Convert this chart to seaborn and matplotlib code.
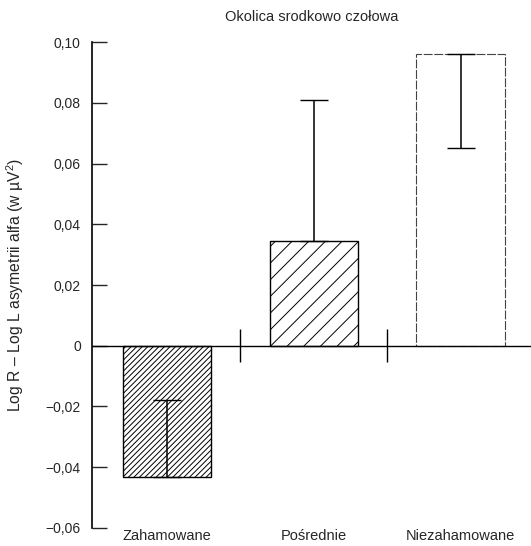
import numpy as np
import pandas as pd
import seaborn as sns
import matplotlib.pyplot as plt
from matplotlib.ticker import FuncFormatter

# values
groups = ['Zahamowane', 'Pośrednie', 'Niezahamowane']
means = [-0.0433, 0.0344, 0.0961]
err_end = [-0.0177, 0.0810, 0.0652]   # where the one-sided error bar stops
hatches = ['//////', '//', '']
title = 'Okolica srodkowo czołowa'
ylabel = 'Log R – Log L asymetrii alfa (w µV$^2$)'

sns.set_style('white')
plt.rcParams['font.family'] = ['Liberation Sans', 'DejaVu Sans']
plt.rcParams['hatch.linewidth'] = 0.7
plt.rcParams['mathtext.fontset'] = 'custom'
plt.rcParams['mathtext.rm'] = 'Liberation Sans'

df = pd.DataFrame({'grupa': groups, 'wartosc': means})

fig = plt.figure(figsize=(5.31, 5.46), dpi=100)
ax = fig.add_axes([0.173, 0.033, 0.827, 0.890])

sns.barplot(data=df, x='grupa', y='wartosc', color='white', width=0.6,
            edgecolor='black', linewidth=1.0, ax=ax)

for i, p in enumerate(ax.patches):
    p.set_hatch(hatches[i])
    if hatches[i] == '':
        p.set_edgecolor('#444444')
        p.set_linestyle((0, (8, 1.5)))
        p.set_linewidth(0.8)

# one-sided error bars
pos = np.arange(len(groups))
lo = [max(m - e, 0) for m, e in zip(means, err_end)]
hi = [max(e - m, 0) for m, e in zip(means, err_end)]
ax.errorbar(pos, means, yerr=[lo, hi], fmt='none', ecolor='black',
            elinewidth=1.1, capsize=10, capthick=1.0)

# zero line and group separators
ax.axhline(0, color='black', lw=1.0, zorder=3)
ax.vlines([0.5, 1.5], -0.0055, 0.0055, color='black', lw=1.0)

ax.set_xlim(-0.51, 2.48)
ax.set_ylim(-0.06, 0.10)
ax.set_yticks(np.arange(-0.06, 0.101, 0.02))
ax.yaxis.set_major_formatter(FuncFormatter(
    lambda v, _: '0' if abs(v) < 1e-9 else f'{v:.2f}'.replace('.', ',').replace('-', '−')))

for s in ['top', 'right', 'bottom']:
    ax.spines[s].set_visible(False)
ax.spines['left'].set_linewidth(1.2)
ax.spines['left'].set_color('black')

ax.tick_params(axis='y', direction='in', length=11, width=1.0, pad=8,
               labelsize=10, left=True)
ax.tick_params(axis='x', length=0, pad=0.5, labelsize=10.5)

ax.set_xlabel('')
ax.set_ylabel(ylabel, fontsize=11.3)
ax.yaxis.set_label_coords(-0.15, 0.5)
ax.set_title(title, fontsize=10.5, pad=15)

plt.savefig('out.png', dpi=100)
